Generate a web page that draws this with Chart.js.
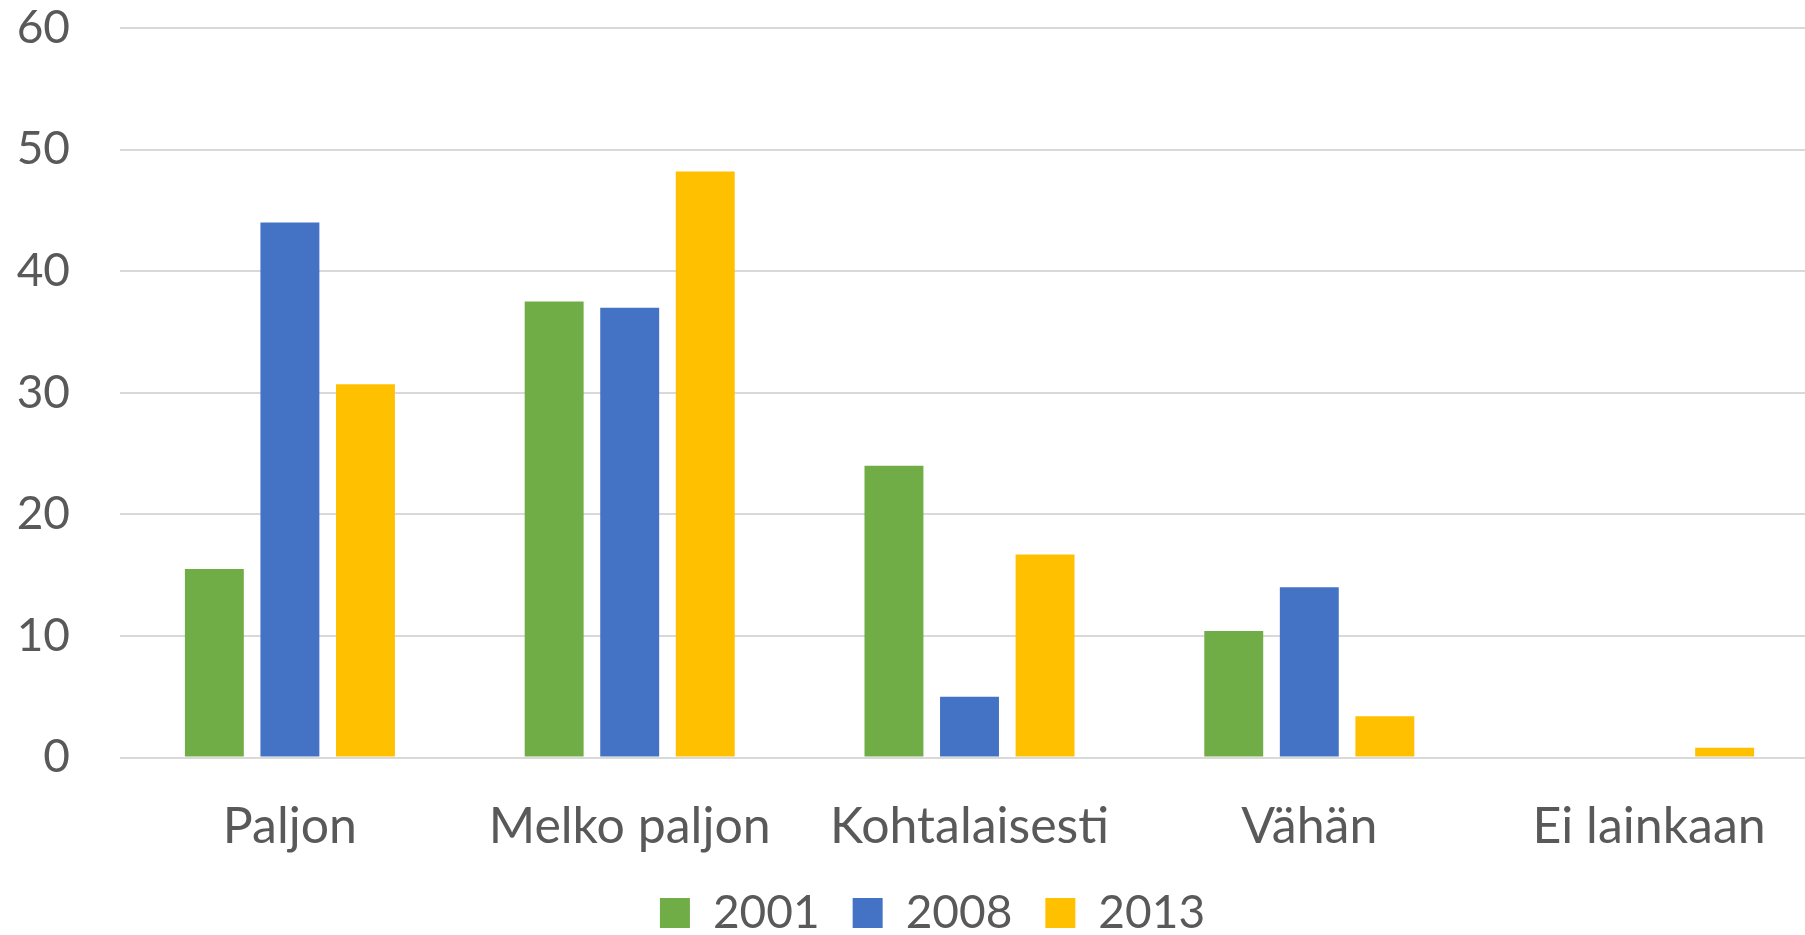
<!DOCTYPE html>
<html>
<head>
<meta charset="utf-8">
<script src="https://cdn.jsdelivr.net/npm/chart.js@4"></script>
<style>
html,body{margin:0;padding:0;overflow:hidden;background:#fff;width:1805px;height:935px;}
#wrap{position:absolute;left:0;top:0;width:1819px;height:946px;}
</style>
</head>
<body>
<div id="wrap"><canvas id="c"></canvas></div>
<script>
const categories = ['Paljon', 'Melko paljon', 'Kohtalaisesti', 'Vähän', 'Ei lainkaan'];
const seriesNames = ['2001', '2008', '2013'];
const values2001 = [15.5, 37.5, 24.0, 10.4, 0];
const values2008 = [44.0, 37.0, 5.0, 14.0, 0];
const values2013 = [30.7, 48.2, 16.7, 3.4, 0.8];
const colors = ['#70AD47', '#4472C4', '#FFC000'];
const yTicks = [0, 10, 20, 30, 40, 50, 60];

const FONT = 'Lato, Carlito, "Open Sans", sans-serif';
const TEXT = '#595959';

const seriesValues = [values2001, values2008, values2013];
const datasets = seriesNames.map((name, i) => ({
  label: name,
  data: seriesValues[i],
  backgroundColor: colors[i],
  borderWidth: 0,
  categoryPercentage: 0.667,
  barPercentage: 0.78
}));

// centre the legend under the visible page like the reference
const legendShift = {
  id: 'legendShift',
  afterLayout(chart) {
    const l = chart.legend;
    if (l) { l.left += 23; l.right += 23; }
  }
};

new Chart(document.getElementById('c'), {
  type: 'bar',
  data: { labels: categories, datasets },
  plugins: [legendShift],
  options: {
    responsive: true,
    maintainAspectRatio: false,
    animation: false,
    layout: { padding: { top: 28, left: 0, right: 0, bottom: 0 } },
    plugins: {
      tooltip: { enabled: false },
      legend: {
        position: 'bottom',
        labels: {
          boxWidth: 30,
          boxHeight: 30,
          padding: 33,
          color: TEXT,
          font: { family: FONT, size: 46 }
        }
      }
    },
    scales: {
      x: {
        grid: { display: false, drawTicks: false },
        border: { display: false },
        ticks: { color: TEXT, padding: 39, font: { family: FONT, size: 50 } },
        afterFit: (s) => { s.height = 99.5; }
      },
      y: {
        min: yTicks[0],
        max: yTicks[yTicks.length - 1],
        grid: { color: '#D9D9D9', lineWidth: 2, drawTicks: true, tickLength: 50, tickColor: 'rgba(0,0,0,0)' },
        border: { display: false },
        afterBuildTicks: (s) => { s.ticks = yTicks.map(v => ({ value: v })); },
        ticks: { color: TEXT, padding: 0, font: { family: FONT, size: 46 } },
        afterFit: (s) => { s.width = 120; }
      }
    }
  }
});
</script>
</body>
</html>
